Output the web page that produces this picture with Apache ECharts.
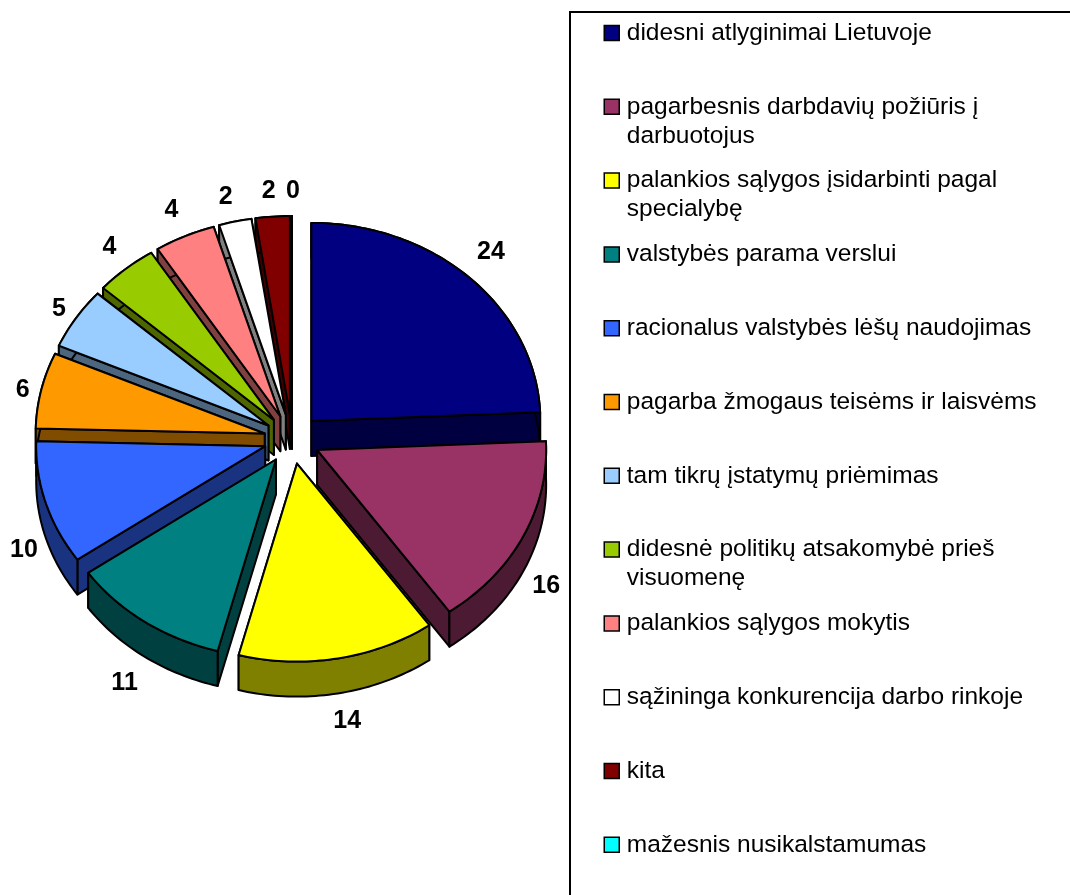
<!DOCTYPE html>
<html><head><meta charset="utf-8">
<style>html,body{margin:0;padding:0;background:#fff}#c{width:1070px;height:895px}</style>
<script src="https://cdn.jsdelivr.net/npm/echarts@6/dist/echarts.min.js"></script>
</head><body><div id="c"></div>
<script>
const categories = [
  'didesni atlyginimai Lietuvoje',
  'pagarbesnis darbdavių požiūris į\ndarbuotojus',
  'palankios sąlygos įsidarbinti pagal\nspecialybę',
  'valstybės parama verslui',
  'racionalus valstybės lėšų naudojimas',
  'pagarba žmogaus teisėms ir laisvėms',
  'tam tikrų įstatymų priėmimas',
  'didesnė politikų atsakomybė prieš\nvisuomenę',
  'palankios sąlygos mokytis',
  'sąžininga konkurencija darbo rinkoje',
  'kita',
  'mažesnis nusikalstamumas'
];
const values = [24.3, 15.9, 13.9, 11.2, 10.1, 6.2, 5.0, 4.4, 4.3, 2.3, 2.4, 0];
const colors = ['#000080','#993366','#FFFF00','#008080','#3366FF','#FF9900','#99CCFF','#99CC00','#FF8080','#FFFFFF','#800000','#00FFFF'];
// label placement tweaks, in pixels, relative to the automatic outside position
const labelNudges = [[4,-8],[1,3],[5,3],[-6,6],[2,5],[6,5],[4,4],[0,-3],[-3,-4],[-4,0],[-2,-1],[1,0]];

const geo = {cx:292, cy:439, rx:229, ry:198, ex:28, ey:25, depth:35, labelGap:25};
const total = values.reduce((a,b)=>a+b,0);
const halves = c => '#'+[1,3,5].map(i=>Math.round(parseInt(c.substr(i,2),16)/2).toString(16).padStart(2,'0')).join('');
let run = 0;
const spans = values.map(v=>{const s=run/total*2*Math.PI; run+=v; return [s, run/total*2*Math.PI];});
const midCos = spans.map(s=>Math.cos((s[0]+s[1])/2));
const rank = midCos.map((c,i)=>[-c,i]).sort((a,b)=>a[0]-b[0]).reduce((m,p,r)=>{m[p[1]]=r;return m;},{});

function sliceShapes(i){
  const [a0,a1] = spans[i], mid=(a0+a1)/2;
  const ax = geo.cx+geo.ex*Math.sin(mid), ay = geo.cy-geo.ey*Math.cos(mid);
  const arc=[]; const n=Math.max(2,Math.ceil((a1-a0)/0.02));
  for(let k=0;k<=n;k++){const t=a0+(a1-a0)*k/n; arc.push([ax+geo.rx*Math.sin(t), ay-geo.ry*Math.cos(t)]);}
  const down=p=>[p[0],p[1]+geo.depth];
  const apex=[ax,ay];
  const wallStyle={fill:halves(colors[i]),stroke:'#000',lineWidth:2,lineJoin:'round'};
  const topStyle={fill:colors[i],stroke:'#000',lineWidth:2,lineJoin:'round'};
  const first=arc[0], last=arc[arc.length-1];
  // radial walls painted back to front: the edge reaching lower on screen is nearer
  const radial=[first,last].sort((p,q)=>p[1]-q[1]).map(e=>(
    {type:'polygon',shape:{points:[apex,e,down(e),down(apex)]},style:wallStyle}));
  const children=radial.concat([
    {type:'polygon',shape:{points:arc.concat(arc.slice().reverse().map(down))},style:wallStyle},
    {type:'polygon',shape:{points:[apex].concat(arc)},style:topStyle}
  ]);
  const c=Math.cos(mid), s=Math.sin(mid);
  const lx=ax+(geo.rx+geo.labelGap)*s+labelNudges[i][0];
  const ly=ay-(geo.ry+geo.labelGap)*c+(c<0?geo.depth:0)+labelNudges[i][1];
  children.push({type:'text',x:lx,y:ly,style:{text:String(Math.round(values[i])),fill:'#000',
    font:'bold 25px "Liberation Sans", Arial, sans-serif',align:'center',verticalAlign:'middle'}});
  return children;
}

const series = categories.map((name,i)=>({
  type:'custom', name, coordinateSystem:'none', z:2+rank[i]*0.01,
  data:[[values[i]]],
  itemStyle:{color:colors[i]},
  renderItem:()=>({type:'group',children:sliceShapes(i)}),
  silent:true, animation:false
}));

const chart = echarts.init(document.getElementById('c'),null,{renderer:'canvas'});
chart.setOption({
  animation:false, backgroundColor:'#fff',
  graphic:[{type:'rect',z:1,shape:{x:570,y:12,width:700,height:1000},style:{fill:'#fff',stroke:'#000',lineWidth:2}}],
  legend:{
    orient:'vertical', left:603.5, top:-12.5, height:2000, padding:0,
    itemWidth:15, itemHeight:15, itemGap:-17.2, selectedMode:false, icon:'rect',
    itemStyle:{borderColor:'#000',borderWidth:1.5},
    data:categories,
    formatter:n=>{const p=n.split('\n');return '\n'+p[0]+'\n'+(p[1]||' ');},
    textStyle:{fontFamily:'"Liberation Sans", Arial, sans-serif',fontSize:24.5,lineHeight:29,color:'#000',padding:[4,0,0,2.5]}
  },
  series
});
</script></body></html>
